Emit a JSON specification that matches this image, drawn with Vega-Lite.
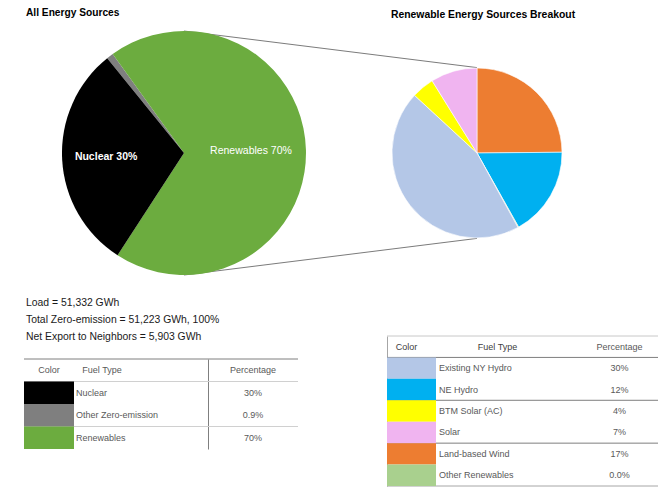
{
  "$schema": "https://vega.github.io/schema/vega-lite/v6.json",
  "background": "white",
  "padding": {"left": 23, "top": 8, "right": 0, "bottom": 0},
  "config": {"view": {"stroke": null}, "font": "Liberation Sans", "concat": {"spacing": 0}},
  "datasets": {
    "slices": [
      {"pie": "All Energy Sources", "fuel": "Other Zero-emission", "pct": 0.9, "order": 1, "label": ""},
      {"pie": "All Energy Sources", "fuel": "Renewables", "pct": 69.1, "order": 2, "label": "Renewables 70%"},
      {"pie": "All Energy Sources", "fuel": "Nuclear", "pct": 30, "order": 3, "label": "Nuclear 30%"},
      {"pie": "Renewable Energy Sources Breakout", "fuel": "Land-based Wind", "pct": 17.4, "order": 1, "label": ""},
      {"pie": "Renewable Energy Sources Breakout", "fuel": "NE Hydro", "pct": 11.9, "order": 2, "label": ""},
      {"pie": "Renewable Energy Sources Breakout", "fuel": "Other Renewables", "pct": 0.1, "order": 3, "label": ""},
      {"pie": "Renewable Energy Sources Breakout", "fuel": "Existing NY Hydro", "pct": 31.4, "order": 4, "label": ""},
      {"pie": "Renewable Energy Sources Breakout", "fuel": "BTM Solar (AC)", "pct": 3.0, "order": 5, "label": ""},
      {"pie": "Renewable Energy Sources Breakout", "fuel": "Solar", "pct": 6.2, "order": 6, "label": ""}
    ],
    "ltable": [
      {"idx": 0, "group": "header", "fuel": "Fuel Type", "pct": "Percentage", "head": "Color"},
      {"idx": 1, "group": "nonrenewable", "fuel": "Nuclear", "pct": "30%"},
      {"idx": 2, "group": "nonrenewable", "fuel": "Other Zero-emission", "pct": "0.9%"},
      {"idx": 3, "group": "renewable", "fuel": "Renewables", "pct": "70%"}
    ],
    "rtable": [
      {"idx": 0, "group": "header", "fuel": "Fuel Type", "pct": "Percentage", "head": "Color"},
      {"idx": 1, "group": "hydro", "fuel": "Existing NY Hydro", "pct": "30%"},
      {"idx": 2, "group": "hydro", "fuel": "NE Hydro", "pct": "12%"},
      {"idx": 3, "group": "solar", "fuel": "BTM Solar (AC)", "pct": "4%"},
      {"idx": 4, "group": "solar", "fuel": "Solar", "pct": "7%"},
      {"idx": 5, "group": "wind", "fuel": "Land-based Wind", "pct": "17%"},
      {"idx": 6, "group": "wind", "fuel": "Other Renewables", "pct": "0.0%"}
    ],
    "notes": [
      {"line": 1, "text": "Load = 51,332 GWh"},
      {"line": 2, "text": "Total Zero-emission = 51,223 GWh, 100%"},
      {"line": 3, "text": "Net Export to Neighbors = 5,903 GWh"}
    ]
  },
  "spacing": 17,
  "vconcat": [
    {
      "width": 613,
      "height": 244,
      "data": {"name": "slices"},
      "encoding": {
        "x": {"field": "pie", "type": "nominal", "axis": null, "scale": {"type": "point", "domain": ["All Energy Sources", "Renewable Energy Sources Breakout"], "padding": 0.546}}
      },
      "layer": [
        {
          "transform": [{"aggregate": [{"op": "sum", "field": "pct", "as": "total"}], "groupby": ["pie"]}],
          "mark": {"type": "line", "color": "#595959", "strokeWidth": 0.8},
          "encoding": {"y": {"field": "total", "type": "quantitative", "axis": null, "scale": {"domain": [-100, 100], "nice": false}}}
        },
        {
          "transform": [{"aggregate": [{"op": "sum", "field": "pct", "as": "total"}], "groupby": ["pie"]}],
          "mark": {"type": "line", "color": "#595959", "strokeWidth": 0.8},
          "encoding": {"y": {"field": "total", "type": "quantitative", "axis": null, "scale": {"domain": [-100, 100], "nice": false, "reverse": true}}}
        },
        {
          "transform": [{"filter": "datum.pie === 'All Energy Sources'"}],
          "mark": {"type": "arc", "radius": 122},
          "encoding": {
            "theta": {"field": "pct", "type": "quantitative", "stack": true, "scale": {"range": [-0.6807, 5.6025], "nice": false}},
            "order": {"field": "order", "type": "quantitative"},
            "color": {"field": "fuel", "type": "nominal", "legend": null, "scale": {"domain": ["Nuclear", "Other Zero-emission", "Renewables", "Existing NY Hydro", "NE Hydro", "BTM Solar (AC)", "Solar", "Land-based Wind", "Other Renewables"], "range": ["#000000", "#7F7F7F", "#6CAC3F", "#B4C7E7", "#00B0F0", "#FFFF00", "#F0B4F0", "#ED7D31", "#A9D08E"]}}
          }
        },
        {
          "transform": [{"filter": "datum.pie === 'Renewable Energy Sources Breakout'"}],
          "mark": {"type": "arc", "radius": 85, "stroke": "white", "strokeWidth": 0.6},
          "encoding": {
            "theta": {"field": "pct", "type": "quantitative", "stack": true, "scale": {"nice": false}},
            "order": {"field": "order", "type": "quantitative"},
            "color": {"field": "fuel", "type": "nominal", "legend": null, "scale": {"domain": ["Nuclear", "Other Zero-emission", "Renewables", "Existing NY Hydro", "NE Hydro", "BTM Solar (AC)", "Solar", "Land-based Wind", "Other Renewables"], "range": ["#000000", "#7F7F7F", "#6CAC3F", "#B4C7E7", "#00B0F0", "#FFFF00", "#F0B4F0", "#ED7D31", "#A9D08E"]}}
          }
        },
        {
          "transform": [{"filter": "datum.pie === 'All Energy Sources'"}],
          "mark": {"type": "text", "radius": 78, "color": "white", "fontSize": 10.5, "fontWeight": "bold"},
          "encoding": {
            "theta": {"field": "pct", "type": "quantitative", "stack": true, "scale": {"range": [-0.6807, 5.6025], "nice": false}},
            "order": {"field": "order", "type": "quantitative"},
            "text": {"condition": {"test": "datum.fuel === 'Nuclear'", "field": "label"}, "value": ""}
          }
        },
        {
          "transform": [{"filter": "datum.pie === 'All Energy Sources'"}],
          "mark": {"type": "text", "radius": 67, "color": "white", "fontSize": 10.5},
          "encoding": {
            "theta": {"field": "pct", "type": "quantitative", "stack": true, "scale": {"range": [-0.6807, 5.6025], "nice": false}},
            "order": {"field": "order", "type": "quantitative"},
            "text": {"condition": {"test": "datum.fuel === 'Renewables'", "field": "label"}, "value": ""}
          }
        },
        {
          "transform": [
            {"aggregate": [{"op": "sum", "field": "pct", "as": "total"}], "groupby": ["pie"]},
            {"filter": "datum.pie === 'All Energy Sources'"}
          ],
          "mark": {"type": "text", "fontSize": 10.2, "fontWeight": "bold", "color": "#000000", "align": "left", "dx": -158, "dy": -18, "baseline": "middle"},
          "encoding": {
            "y": {"datum": 100, "type": "quantitative", "axis": null, "scale": {"domain": [-100, 100], "nice": false}},
            "text": {"field": "pie"}
          }
        },
        {
          "transform": [
            {"aggregate": [{"op": "sum", "field": "pct", "as": "total"}], "groupby": ["pie"]},
            {"filter": "datum.pie === 'Renewable Energy Sources Breakout'"}
          ],
          "mark": {"type": "text", "fontSize": 10.4, "fontWeight": "bold", "color": "#000000", "dx": 6, "dy": -16, "baseline": "middle"},
          "encoding": {
            "y": {"datum": 100, "type": "quantitative", "axis": null, "scale": {"domain": [-100, 100], "nice": false}},
            "text": {"field": "pie"}
          }
        }
      ],
      "resolve": {"scale": {"y": "independent", "theta": "independent"}}
    },
    {
      "spacing": 87,
      "hconcat": [
        {
          "spacing": 13,
          "vconcat": [
            {
              "width": 274,
              "height": 51,
              "data": {"name": "notes"},
              "mark": {"type": "text", "align": "left", "baseline": "middle", "fontSize": 10.4, "color": "#1A1A1A", "dx": 2},
              "encoding": {
                "y": {"field": "line", "type": "ordinal", "axis": null},
                "x": {"datum": 0, "type": "quantitative", "axis": null, "scale": {"domain": [0, 1]}},
                "text": {"field": "text"}
              }
            },
            {
              "spacing": 0,
              "bounds": "flush",
              "hconcat": [
                {
                  "width": 50, "height": 90,
                  "data": {"name": "ltable"},
                  "encoding": {"y": {"field": "idx", "type": "ordinal", "axis": null, "scale": {"type": "band", "paddingInner": 0, "paddingOuter": 0}}},
                  "layer": [
                    {
                      "transform": [{"window": [{"op": "row_number", "as": "rn"}], "groupby": ["group"], "sort": [{"field": "idx", "order": "ascending"}]}, {"filter": "datum.rn === 1"}],
                      "mark": {"type": "rule", "strokeWidth": 1},
                      "encoding": {"y": {"field": "idx", "type": "ordinal", "axis": null, "bandPosition": 0}, "color": {"condition": {"test": "datum.group === 'header'", "value": "#7F7F7F"}, "value": "#D0D0D0"}}
                    },
                    {
                      "transform": [{"filter": "datum.group !== 'header'"}],
                      "mark": {"type": "rect"},
                      "encoding": {"color": {"field": "fuel", "type": "nominal", "legend": null, "scale": {"domain": ["Nuclear", "Other Zero-emission", "Renewables", "Existing NY Hydro", "NE Hydro", "BTM Solar (AC)", "Solar", "Land-based Wind", "Other Renewables"], "range": ["#000000", "#7F7F7F", "#6CAC3F", "#B4C7E7", "#00B0F0", "#FFFF00", "#F0B4F0", "#ED7D31", "#A9D08E"]}}}
                    },
                    {
                      "transform": [{"filter": "datum.group === 'header'"}],
                      "mark": {"type": "text", "fontSize": 9, "color": "#595959"},
                      "encoding": {"text": {"field": "head"}}
                    }
                  ]
                },
                {
                  "width": 134, "height": 90,
                  "data": {"name": "ltable"},
                  "encoding": {"y": {"field": "idx", "type": "ordinal", "axis": null, "scale": {"type": "band", "paddingInner": 0, "paddingOuter": 0}}},
                  "layer": [
                    {
                      "transform": [{"window": [{"op": "row_number", "as": "rn"}], "groupby": ["group"], "sort": [{"field": "idx", "order": "ascending"}]}, {"filter": "datum.rn === 1"}],
                      "mark": {"type": "rule", "strokeWidth": 1},
                      "encoding": {"y": {"field": "idx", "type": "ordinal", "axis": null, "bandPosition": 0}, "color": {"condition": {"test": "datum.group === 'header'", "value": "#7F7F7F"}, "value": "#D0D0D0"}}
                    },
                    {
                      "transform": [{"filter": "datum.group !== 'header'"}],
                      "mark": {"type": "text", "align": "left", "dx": 2, "fontSize": 9, "color": "#595959"},
                      "encoding": {"x": {"datum": 0, "type": "quantitative", "axis": null, "scale": {"domain": [0, 1]}}, "text": {"field": "fuel"}}
                    },
                    {
                      "transform": [{"filter": "datum.group === 'header'"}],
                      "mark": {"type": "text", "dx": -39, "fontSize": 9, "color": "#595959"},
                      "encoding": {"text": {"field": "fuel"}}
                    }
                  ]
                },
                {
                  "width": 90, "height": 90,
                  "data": {"name": "ltable"},
                  "encoding": {"y": {"field": "idx", "type": "ordinal", "axis": {"labels": false, "ticks": false, "domain": true, "domainColor": "#7F7F7F", "title": null, "grid": false}, "scale": {"type": "band", "paddingInner": 0, "paddingOuter": 0}}},
                  "layer": [
                    {
                      "transform": [{"window": [{"op": "row_number", "as": "rn"}], "groupby": ["group"], "sort": [{"field": "idx", "order": "ascending"}]}, {"filter": "datum.rn === 1"}],
                      "mark": {"type": "rule", "strokeWidth": 1},
                      "encoding": {"y": {"field": "idx", "type": "ordinal", "axis": {"labels": false, "ticks": false, "domain": true, "domainColor": "#7F7F7F", "title": null, "grid": false}, "bandPosition": 0}, "color": {"condition": {"test": "datum.group === 'header'", "value": "#7F7F7F"}, "value": "#D0D0D0"}}
                    },
                    {
                      "mark": {"type": "text", "fontSize": 9, "color": "#595959"},
                      "encoding": {"text": {"field": "pct"}}
                    }
                  ]
                }
              ]
            }
          ]
        },
        {
          "spacing": 0,
          "bounds": "flush",
          "hconcat": [
            {
              "width": 49, "height": 192,
              "data": {"name": "rtable"},
              "encoding": {"y": {"field": "idx", "type": "ordinal", "axis": {"labels": false, "ticks": false, "domain": true, "domainColor": "#A6A6A6", "title": null, "grid": false}, "scale": {"type": "band", "paddingInner": 0, "paddingOuter": 0, "range": [42, 192]}}},
              "layer": [
                {
                  "transform": [{"window": [{"op": "row_number", "as": "rn"}], "groupby": ["group"], "sort": [{"field": "idx", "order": "ascending"}]}, {"filter": "datum.rn === 1"}],
                  "mark": {"type": "rule", "strokeWidth": 1},
                  "encoding": {"y": {"field": "idx", "type": "ordinal", "axis": {"labels": false, "ticks": false, "domain": true, "domainColor": "#A6A6A6", "title": null, "grid": false}, "bandPosition": 0}, "color": {"condition": {"test": "datum.group === 'header'", "value": "#C8C8C8"}, "value": "#7F7F7F"}}
                },
                {
                  "transform": [{"filter": "datum.idx === 6"}],
                  "mark": {"type": "rule", "strokeWidth": 1, "color": "#A6A6A6"},
                  "encoding": {"y": {"field": "idx", "type": "ordinal", "axis": {"labels": false, "ticks": false, "domain": true, "domainColor": "#A6A6A6", "title": null, "grid": false}, "bandPosition": 1}}
                },
                {
                  "transform": [{"filter": "datum.group !== 'header'"}],
                  "mark": {"type": "rect"},
                  "encoding": {"color": {"field": "fuel", "type": "nominal", "legend": null, "scale": {"domain": ["Nuclear", "Other Zero-emission", "Renewables", "Existing NY Hydro", "NE Hydro", "BTM Solar (AC)", "Solar", "Land-based Wind", "Other Renewables"], "range": ["#000000", "#7F7F7F", "#6CAC3F", "#B4C7E7", "#00B0F0", "#FFFF00", "#F0B4F0", "#ED7D31", "#A9D08E"]}}}
                },
                {
                  "transform": [{"filter": "datum.group === 'header'"}],
                  "mark": {"type": "text", "fontSize": 9, "color": "#404040", "dx": -5},
                  "encoding": {"text": {"field": "head"}}
                }
              ]
            },
            {
              "width": 145, "height": 192,
              "data": {"name": "rtable"},
              "encoding": {"y": {"field": "idx", "type": "ordinal", "axis": null, "scale": {"type": "band", "paddingInner": 0, "paddingOuter": 0, "range": [42, 192]}}},
              "layer": [
                {
                  "transform": [{"window": [{"op": "row_number", "as": "rn"}], "groupby": ["group"], "sort": [{"field": "idx", "order": "ascending"}]}, {"filter": "datum.rn === 1"}],
                  "mark": {"type": "rule", "strokeWidth": 1},
                  "encoding": {"y": {"field": "idx", "type": "ordinal", "axis": null, "bandPosition": 0}, "color": {"condition": {"test": "datum.group === 'header'", "value": "#C8C8C8"}, "value": "#7F7F7F"}}
                },
                {
                  "transform": [{"filter": "datum.idx === 6"}],
                  "mark": {"type": "rule", "strokeWidth": 1, "color": "#A6A6A6"},
                  "encoding": {"y": {"field": "idx", "type": "ordinal", "axis": null, "bandPosition": 1}}
                },
                {
                  "transform": [{"filter": "datum.group !== 'header'"}],
                  "mark": {"type": "text", "align": "left", "dx": 3, "fontSize": 9, "color": "#595959"},
                  "encoding": {"x": {"datum": 0, "type": "quantitative", "axis": null, "scale": {"domain": [0, 1]}}, "text": {"field": "fuel"}}
                },
                {
                  "transform": [{"filter": "datum.group === 'header'"}],
                  "mark": {"type": "text", "dx": -11, "fontSize": 9, "color": "#404040"},
                  "encoding": {"text": {"field": "fuel"}}
                }
              ]
            },
            {
              "width": 77, "height": 192,
              "data": {"name": "rtable"},
              "encoding": {"y": {"field": "idx", "type": "ordinal", "axis": null, "scale": {"type": "band", "paddingInner": 0, "paddingOuter": 0, "range": [42, 192]}}},
              "layer": [
                {
                  "transform": [{"window": [{"op": "row_number", "as": "rn"}], "groupby": ["group"], "sort": [{"field": "idx", "order": "ascending"}]}, {"filter": "datum.rn === 1"}],
                  "mark": {"type": "rule", "strokeWidth": 1},
                  "encoding": {"y": {"field": "idx", "type": "ordinal", "axis": null, "bandPosition": 0}, "color": {"condition": {"test": "datum.group === 'header'", "value": "#C8C8C8"}, "value": "#7F7F7F"}}
                },
                {
                  "transform": [{"filter": "datum.idx === 6"}],
                  "mark": {"type": "rule", "strokeWidth": 1, "color": "#A6A6A6"},
                  "encoding": {"y": {"field": "idx", "type": "ordinal", "axis": null, "bandPosition": 1}}
                },
                {
                  "mark": {"type": "text", "fontSize": 9, "color": "#595959"},
                  "encoding": {"text": {"field": "pct"}}
                }
              ]
            }
          ]
        }
      ]
    }
  ]
}
